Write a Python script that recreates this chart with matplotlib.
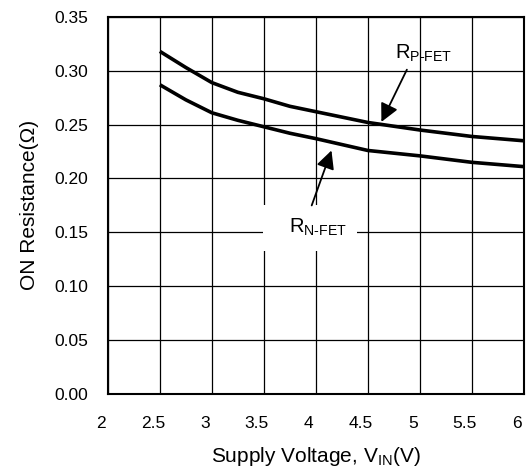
import matplotlib
matplotlib.use("Agg")
import matplotlib.pyplot as plt
import matplotlib.transforms as mtransforms
from matplotlib.patches import Rectangle

plt.rcParams['font.family'] = ['Liberation Sans', 'DejaVu Sans']
plt.rcParams['mathtext.fontset'] = 'custom'
plt.rcParams['mathtext.rm'] = 'Liberation Sans'
plt.rcParams['mathtext.it'] = 'Liberation Sans'

# values
vin = [2.5, 2.75, 3.0, 3.25, 3.5, 3.75, 4.0, 4.5, 5.0, 5.5, 6.0]
r_pfet = [0.318, 0.303, 0.289, 0.280, 0.274, 0.267, 0.262, 0.252, 0.245, 0.239, 0.235]
r_nfet = [0.287, 0.273, 0.261, 0.254, 0.248, 0.242, 0.237, 0.226, 0.221, 0.215, 0.211]

x_ticks = [2, 2.5, 3, 3.5, 4, 4.5, 5, 5.5, 6]
x_tick_labels = ['2', '2.5', '3', '3.5', '4', '4.5', '5', '5.5', '6']
y_ticks = [0.0, 0.05, 0.10, 0.15, 0.20, 0.25, 0.30, 0.35]

fig = plt.figure(figsize=(5.26, 4.69), dpi=100)
ax = fig.add_axes([0.205, 0.160, 0.791, 0.804])

ax.plot(vin, r_pfet, color='black', lw=2.6, solid_capstyle='butt', zorder=3)
ax.plot(vin, r_nfet, color='black', lw=2.6, solid_capstyle='butt', zorder=3)

ax.set_xlim(2, 6)
ax.set_ylim(0, 0.35)
ax.set_xticks(x_ticks)
ax.set_xticklabels(x_tick_labels)
ax.set_yticks(y_ticks)
ax.set_yticklabels([f"{v:.2f}" for v in y_ticks])
ax.grid(True, color='black', lw=0.9)
ax.tick_params(length=0, labelsize=12.5)
ax.tick_params(axis='x', pad=16)
ax.tick_params(axis='y', pad=14)
for s in ax.spines.values():
    s.set_linewidth(1.5)

# x tick labels sit a little left of their grid lines in the original
shift = mtransforms.ScaledTranslation(-7 / 100, 0, fig.dpi_scale_trans)
for lbl in ax.get_xticklabels():
    lbl.set_transform(lbl.get_transform() + shift)

arrow = dict(arrowstyle='-|>,head_length=1.1,head_width=0.55',
             color='black', lw=1.3, shrinkA=0, shrinkB=0)
ax.annotate('', xy=(4.63, 0.2525), xytext=(4.875, 0.301), arrowprops=arrow, zorder=4)
ax.text(5.04, 0.3157, r'R$_{\mathregular{P\text{-}FET}}$', fontsize=14.5,
        ha='center', va='center', zorder=5)

# white patch behind the N-FET label, hiding the grid there
ax.add_patch(Rectangle((3.49, 0.133), 0.91, 0.042, facecolor='white',
                       edgecolor='none', zorder=2))
ax.annotate('', xy=(4.15, 0.226), xytext=(3.96, 0.175), arrowprops=arrow, zorder=4)
ax.text(4.02, 0.1546, r'R$_{\mathregular{N\text{-}FET}}$', fontsize=14.5,
        ha='center', va='center', zorder=5)

ax.set_xlabel(r'Supply Voltage, V$_{\mathregular{IN}}$(V)', fontsize=15, labelpad=10)
ax.set_ylabel('ON Resistance(Ω)', fontsize=15, labelpad=11)

fig.savefig('out.png', dpi=100)
